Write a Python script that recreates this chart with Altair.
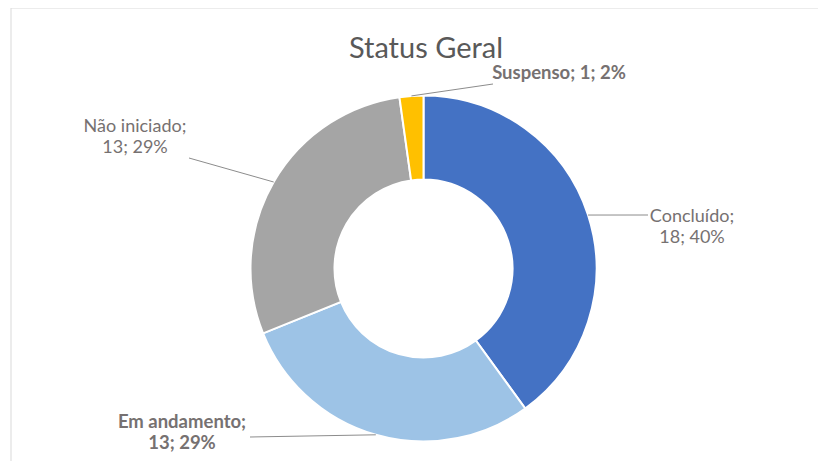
import math
import altair as alt
import pandas as pd

# ---- data ----
categories = ["Concluído", "Em andamento", "Não iniciado", "Suspenso"]
values = [18, 13, 13, 1]
percents = [40, 29, 29, 2]
colors = ["#4472C4", "#9DC3E6", "#A5A5A5", "#FFC000"]
bold_labels = [False, True, False, True]
title_text = "Status Geral"

# ---- layout ----
W, H = 810, 453
CX, CY = 415.5, 260.5
R_OUT, R_IN = 173, 89
# label layout: leader end point, text centre x, first baseline y, multi-line?
label_layout = {
    "Concluído": dict(ex=640, ey=207, tx=684, ty=214, multi=True),
    "Em andamento": dict(ex=242, ey=429, tx=174, ty=420, multi=True),
    "Não iniciado": dict(ex=181, ey=150, tx=127, ty=124, multi=True),
    "Suspenso": dict(ex=485, ey=76, tx=551, ty=71, multi=False),
}
LINE_H = 21

df = pd.DataFrame({"cat": categories, "val": values, "order": range(len(categories))})

total = sum(values)
lead_rows, text_rows = [], []
cum = 0
for c, v, p, b in zip(categories, values, percents, bold_labels):
    mid = (cum + v / 2) / total * 2 * math.pi
    cum += v
    sx = CX + R_OUT * math.sin(mid)
    sy = CY - R_OUT * math.cos(mid)
    lay = label_layout[c]
    lead_rows.append(dict(x=sx, y=sy, x2=lay["ex"], y2=lay["ey"]))
    if lay["multi"]:
        text_rows.append(dict(x=lay["tx"], y=lay["ty"], t=f"{c};", bold=b))
        text_rows.append(dict(x=lay["tx"], y=lay["ty"] + LINE_H, t=f"{v}; {p}%", bold=b))
    else:
        text_rows.append(dict(x=lay["tx"], y=lay["ty"], t=f"{c}; {v}; {p}%", bold=b))

lead_df = pd.DataFrame(lead_rows)
text_df = pd.DataFrame(text_rows)

FONT = "Lato"
LABEL_COLOR = "#767171"

border_top = alt.Chart(pd.DataFrame({"a": [0]})).mark_rule(color="#D9D9D9", strokeWidth=1).encode(
    x=alt.value(3), x2=alt.value(W), y=alt.value(0)
)
border_left = alt.Chart(pd.DataFrame({"a": [0]})).mark_rule(color="#D9D9D9", strokeWidth=1).encode(
    x=alt.value(3), y=alt.value(0), y2=alt.value(H)
)

arcs = alt.Chart(df).mark_arc(radius=R_OUT, radius2=R_IN, stroke="white", strokeWidth=2).encode(
    theta=alt.Theta("val:Q", stack=True),
    color=alt.Color("cat:N", scale=alt.Scale(domain=categories, range=colors), legend=None),
    order=alt.Order("order:Q"),
    x=alt.value(CX),
    y=alt.value(CY),
)

leaders = alt.Chart(lead_df).mark_rule(color="#8C8C8C", strokeWidth=1).encode(
    x=alt.X("x:Q", scale=None), y=alt.Y("y:Q", scale=None),
    x2="x2:Q", y2="y2:Q",
)

def text_layer(bold):
    return alt.Chart(text_df[text_df["bold"] == bold]).mark_text(
        font=FONT, fontSize=18.5 if bold else 18, fontWeight="bold" if bold else "normal",
        color=LABEL_COLOR, align="center", baseline="alphabetic",
    ).encode(x=alt.X("x:Q", scale=None), y=alt.Y("y:Q", scale=None), text="t:N")

title = alt.Chart(pd.DataFrame({"t": [title_text]})).mark_text(
    font=FONT, fontSize=29, color="#595959", align="center", baseline="alphabetic"
).encode(x=alt.value(418), y=alt.value(50), text="t:N")

chart = alt.layer(
    border_top, border_left, arcs, leaders, text_layer(False), text_layer(True), title
).properties(
    width=W, height=H, autosize=alt.AutoSizeParams(type="none"), padding=0, background="white"
).configure_view(stroke=None)

chart.save("out.html", embed_options={"renderer": "svg", "actions": False})
